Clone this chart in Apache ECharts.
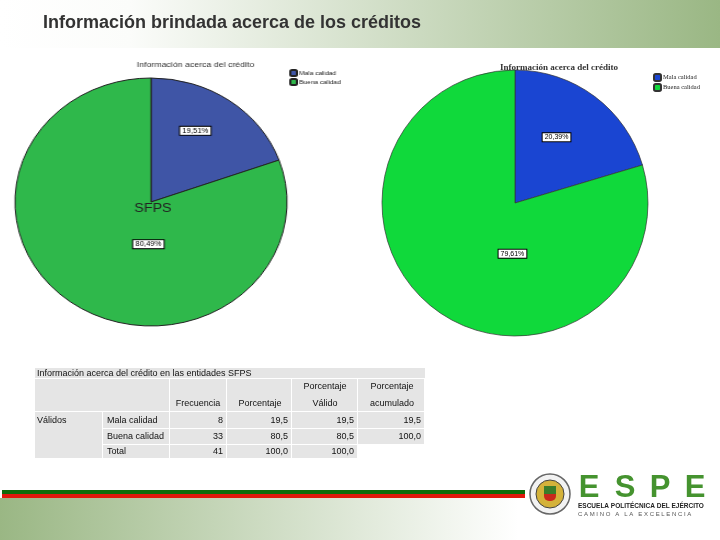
<!DOCTYPE html>
<html>
<head>
<meta charset="utf-8">
<script src="https://cdn.jsdelivr.net/npm/echarts@6/dist/echarts.min.js"></script>
<style>
  html, body { margin: 0; padding: 0; background: #fff; }
  #main { width: 720px; height: 540px; position: absolute; left: 0; top: 0; }
  /* el grafico SFPS original esta estirado a lo ancho */
  #izq { width: 330px; height: 350px; position: absolute; left: 0; top: 0;
         transform-origin: 151px 0; transform: scaleX(1.097); }
</style>
</head>
<body>
<div id="main"></div>
<div id="izq"></div>
<script>
// categorias y porcentajes de cada grafico
var categorias = ['Mala calidad', 'Buena calidad'];
var pctSfps = [19.51, 80.49];
var pctNoSfps = [20.39, 79.61];

// tabla de frecuencias SFPS
var filasTabla = ['Mala calidad', 'Buena calidad', 'Total'];
var frecuencia = ['8', '33', '41'];
var porcentaje = ['19,5', '80,5', '100,0'];
var pctValido = ['19,5', '80,5', '100,0'];
var pctAcumulado = ['19,5', '100,0', ''];

var colX = [35, 103, 170, 227, 292, 358, 425];
var filaY = [379, 412, 429, 445, 459];
var gris = '#e5e5e5';
var fuenteTabla = 'Liberation Sans';

function formato(v) {
    return v.toFixed(2).replace('.', ',') + '%';
}

var myChart = echarts.init(document.getElementById('main'));
var chartIzq = echarts.init(document.getElementById('izq'));

var g = [];
// cabecera degradada
g.push({
    type: 'rect', z: -10,
    shape: {x: 0, y: 0, width: 720, height: 48},
    style: {fill: new echarts.graphic.LinearGradient(0, 0, 1, 0, [
        {offset: 0, color: '#ffffff'}, {offset: 0.18, color: '#fbfcfa'}, {offset: 1, color: '#9ab784'}])}
});
g.push({
    type: 'text', left: 43, top: 14,
    style: {text: 'Información brindada acerca de los créditos', fill: '#333',
        font: 'bold 18px "Liberation Sans", Arial'}
});
// franja inferior
g.push({
    type: 'rect', z: -10,
    shape: {x: 0, y: 498, width: 720, height: 42},
    style: {fill: new echarts.graphic.LinearGradient(0, 0, 1, 0, [
        {offset: 0, color: '#9ab784'}, {offset: 0.72, color: '#ffffff'}, {offset: 1, color: '#ffffff'}])}
});
g.push({type: 'rect', shape: {x: 2, y: 490, width: 523, height: 4}, style: {fill: '#0f6b0a'}});
g.push({type: 'rect', shape: {x: 2, y: 494, width: 523, height: 4}, style: {fill: '#e0180c'}});

// rotulo del grafico de la derecha
g.push({type: 'text', x: 515, y: 220, style: {text: 'NO SFPS', fill: '#222', font: '13px "Liberation Sans", Arial', align: 'center', verticalAlign: 'middle'}});

// tabla
function celda(x0, y0, x1, y1) {
    g.push({type: 'rect', shape: {x: x0, y: y0, width: x1 - x0 - 1, height: y1 - y0 - 1}, style: {fill: gris}});
}
function texto(t, x, y, al) {
    g.push({type: 'text', x: x, y: y, style: {text: t, fill: '#111', font: '9px ' + fuenteTabla, align: al, verticalAlign: 'middle'}});
}
celda(35, 368, 426, 379);
texto('Información acerca del crédito en las entidades SFPS', 37, 373.5, 'left');
celda(35, 379, 170, 412);
for (var c = 2; c < 6; c++) celda(colX[c], 379, colX[c + 1], 412);
texto('Frecuencia', 198, 404, 'center');
texto('Porcentaje', 260, 404, 'center');
texto('Porcentaje', 325, 387, 'center');
texto('Válido', 325, 404, 'center');
texto('Porcentaje', 392, 387, 'center');
texto('acumulado', 392, 404, 'center');
celda(35, 412, 103, 459);
texto('Válidos', 37, 420.5, 'left');
var cols = [frecuencia, porcentaje, pctValido, pctAcumulado];
for (var r = 0; r < filasTabla.length; r++) {
    var y0 = filaY[r + 1], y1 = filaY[r + 2];
    var ym = (y0 + y1) / 2;
    celda(103, y0, 170, y1);
    texto(filasTabla[r], 107, ym, 'left');
    for (var k = 0; k < cols.length; k++) {
        if (cols[k][r] === '') continue;
        celda(colX[k + 2], y0, colX[k + 3], y1);
        texto(cols[k][r], colX[k + 3] - 4, ym, 'right');
    }
}

// logo ESPE
g.push({type: 'circle', shape: {cx: 550, cy: 494, r: 20}, style: {fill: '#f2f2f2', stroke: '#666', lineWidth: 1.5}});
g.push({type: 'circle', shape: {cx: 550, cy: 494, r: 14}, style: {fill: '#d4b23a', stroke: '#444', lineWidth: 1}});
g.push({type: 'rect', shape: {x: 544, y: 486, width: 12, height: 8}, style: {fill: '#3a7d2a'}});
g.push({type: 'rect', shape: {x: 544, y: 494, width: 12, height: 7, r: [0, 0, 5, 5]}, style: {fill: '#c8281c'}});
var letras = ['E', 'S', 'P', 'E'];
var letrasX = [589, 625, 660, 695];
for (var i = 0; i < letras.length; i++) {
    g.push({type: 'text', x: letrasX[i], y: 488, style: {text: letras[i], fill: '#45932f', font: 'bold 31px "Liberation Sans", Arial', align: 'center', verticalAlign: 'middle'}});
}
g.push({type: 'text', x: 578, y: 506, style: {text: 'ESCUELA POLITÉCNICA DEL EJÉRCITO', fill: '#222', font: 'bold 6.5px "Liberation Sans", Arial', verticalAlign: 'middle'}});
g.push({type: 'text', x: 578, y: 514, style: {text: 'C A M I N O   A   L A   E X C E L E N C I A', fill: '#555', font: '6px "Liberation Sans", Arial', verticalAlign: 'middle'}});

function etiqueta() {
    return {
        show: true, position: 'inside',
        formatter: function (p) { return formato(p.value); },
        color: '#000', fontSize: 7, fontFamily: 'Liberation Sans',
        backgroundColor: '#fff', borderColor: '#000', borderWidth: 1, padding: [1, 2, 0, 2]
    };
}

// grafico NO SFPS y todo lo demas
var option = {
    animation: false,
    title: {text: 'Información acerca del crédito', left: 495, top: 58,
        textStyle: {fontSize: 9, fontWeight: 'bold', color: '#333', fontFamily: 'Liberation Serif'}},
    legend: {orient: 'vertical', left: 648, top: 68, itemWidth: 7, itemHeight: 7, itemGap: 1,
        data: categorias,
        textStyle: {fontSize: 6.5, color: '#222', fontFamily: 'Liberation Serif', padding: [0, 0, 0, -3]}},
    graphic: g,
    series: [{
        type: 'pie', center: [515, 203], radius: 133, startAngle: 90,
        color: ['#1a45d2', '#10d93b'],
        itemStyle: {borderColor: '#333', borderWidth: 0.7},
        label: etiqueta(),
        labelLayout: function (p) { return p.dataIndex === 1 ? {dx: 39, dy: -5} : {dy: -10}; },
        emphasis: {disabled: true},
        data: categorias.map(function (n, i) { return {name: n, value: pctNoSfps[i]}; })
    }]
};
myChart.setOption(option);

// grafico SFPS (capa aparte, estirada en horizontal)
var optionIzq = {
    animation: false,
    title: {text: 'Información acerca del crédito', left: 133, top: 56,
        textStyle: {fontSize: 8, fontWeight: 'normal', color: '#333', fontFamily: 'Liberation Sans'}},
    legend: {orient: 'vertical', left: 272, top: 64, itemWidth: 6, itemHeight: 6, itemGap: 1,
        data: categorias, textStyle: {fontSize: 6, color: '#222', fontFamily: 'Liberation Sans', padding: [0, 0, 0, -3]}},
    graphic: [{type: 'text', x: 152.8, y: 208, z: 100,
        style: {text: 'SFPS', fill: '#222', font: '13px "Liberation Sans", Arial', align: 'center', verticalAlign: 'middle'}}],
    series: [{
        type: 'pie', center: [151, 202], radius: 124, startAngle: 90,
        color: ['#3f55a6', '#2fb84b'],
        itemStyle: {borderColor: '#222', borderWidth: 1},
        label: etiqueta(),
        labelLayout: function (p) { return p.dataIndex === 1 ? {dx: 35, dy: -11} : {dx: 3, dy: -18}; },
        emphasis: {disabled: true},
        data: categorias.map(function (n, i) { return {name: n, value: pctSfps[i]}; })
    }]
};
chartIzq.setOption(optionIzq);
</script>
</body>
</html>
